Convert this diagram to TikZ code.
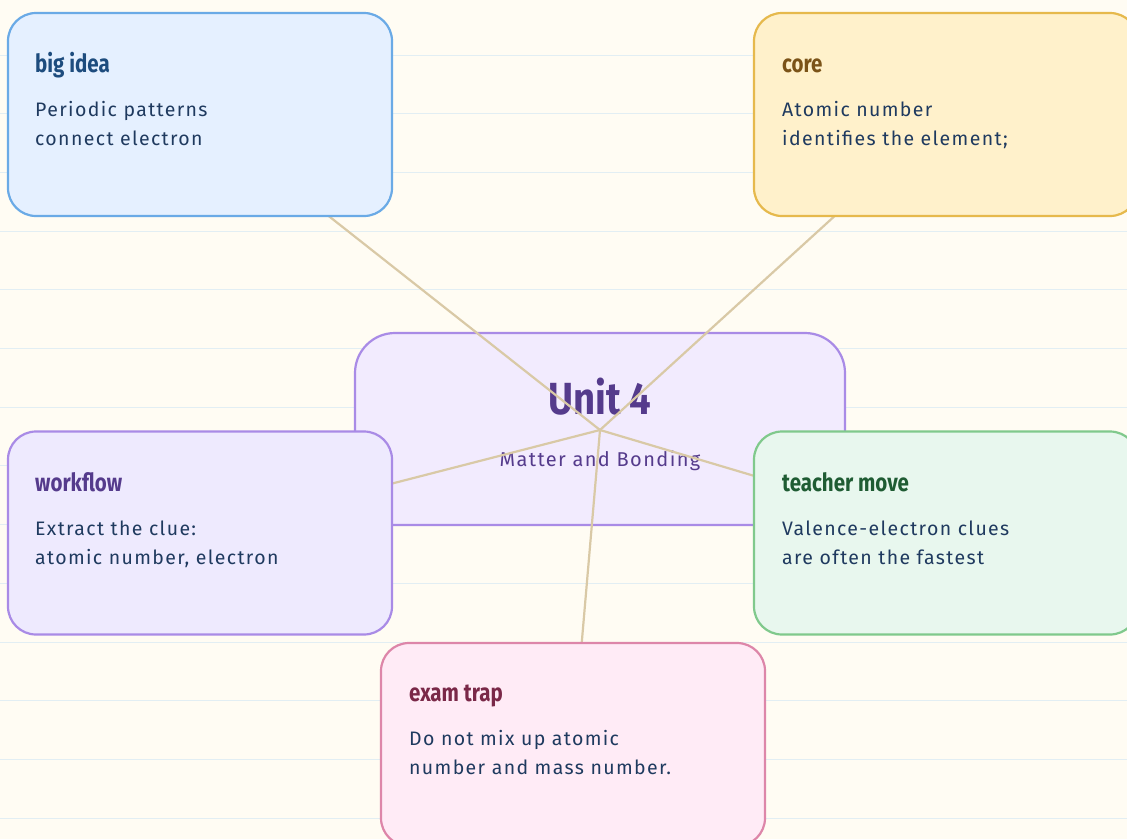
\documentclass[tikz,border=0pt]{standalone}
\usepackage{fontspec}
\setmainfont{Fira Sans}
\newfontfamily\spaced[LetterSpace=7]{Fira Sans}
\definecolor{bg}{HTML}{FFFCF3}
\definecolor{rule}{HTML}{E2EEF3}
\definecolor{conn}{HTML}{D9C9A6}
\definecolor{bodytxt}{HTML}{1F3A5F}
\definecolor{blueS}{HTML}{6AAAE6}\definecolor{blueF}{HTML}{E5F0FF}\definecolor{blueT}{HTML}{1D4C7E}
\definecolor{yelS}{HTML}{E6B94C}\definecolor{yelF}{HTML}{FFF1CB}\definecolor{yelT}{HTML}{7B5318}
\definecolor{purS}{HTML}{A98BE6}\definecolor{purF}{HTML}{EEEAFE}\definecolor{purC}{HTML}{F2EBFE}\definecolor{purT}{HTML}{553B8C}
\definecolor{grnS}{HTML}{80C98C}\definecolor{grnF}{HTML}{E8F7EE}\definecolor{grnT}{HTML}{1F5C33}
\definecolor{pnkS}{HTML}{DD86A9}\definecolor{pnkF}{HTML}{FFEBF6}\definecolor{pnkT}{HTML}{7A2848}
\newcommand{\cardtitle}[1]{\scalebox{0.82}[1]{#1}}
\begin{document}
\begin{tikzpicture}[x=1pt,y=-1pt,
  card/.style={draw, line width=2.2pt, rounded corners=28pt, minimum width=384pt, minimum height=203pt, inner sep=0pt},
  ttl/.style={anchor=base west, inner sep=0pt, font=\fontsize{25}{28}\selectfont\bfseries},
  bodytext/.style={anchor=base west, inner sep=0pt, text=bodytxt, align=left, font=\fontsize{19.5}{29}\selectfont\spaced},
  link/.style={draw=conn, line width=2.2pt}]
\useasboundingbox (0,0) rectangle (1127,839);
\fill[bg] (0,0) rectangle (1127,839);
\foreach \k in {0,...,13} \draw[rule, line width=1pt] (0,55+58.7*\k) -- (1127,55+58.7*\k);
% center
\node[draw=purS, fill=purC, line width=2.2pt, rounded corners=40pt, minimum width=490pt, minimum height=192pt, inner sep=0pt] (center) at (600,429) {};
\node[anchor=base, inner sep=0pt, text=purT, font=\fontsize{45}{48}\selectfont\bfseries] (unit) at (600,414) {\scalebox{0.85}[1]{Unit 4}};
\node[anchor=base, inner sep=0pt, text=purT, font=\fontsize{20}{24}\selectfont\spaced] (sub) at (600,466) {Matter and Bonding};
\coordinate (hub) at (600,430);
\coordinate (cbig) at (200,114.5);
\coordinate (ccore) at (946,114.5);
\coordinate (cwork) at (200,533);
\coordinate (cteach) at (946,533);
\coordinate (cexam) at (573,744.5);
\draw[link] (hub) -- (cbig);
\draw[link] (hub) -- (ccore);
\draw[link] (hub) -- (cwork);
\draw[link] (hub) -- (cteach);
\draw[link] (hub) -- (cexam);
% cards
\node[card, draw=blueS, fill=blueF] (big) at (cbig) {};
\node[ttl, text=blueT] (bigT) at (35,72) {\cardtitle{big idea}};
\node[bodytext] (bigB) at (35,145) {Periodic patterns\\connect electron};
\node[card, draw=yelS, fill=yelF] (core) at (ccore) {};
\node[ttl, text=yelT] (coreT) at (782,72) {\cardtitle{core}};
\node[bodytext] (coreB) at (782,145) {Atomic number\\identifies the element;};
\node[card, draw=purS, fill=purF] (work) at (cwork) {};
\node[ttl, text=purT] (workT) at (35,491) {\cardtitle{workflow}};
\node[bodytext] (workB) at (35,564) {Extract the clue:\\atomic number, electron};
\node[card, draw=grnS, fill=grnF] (teach) at (cteach) {};
\node[ttl, text=grnT] (teachT) at (782,491) {\cardtitle{teacher move}};
\node[bodytext] (teachB) at (782,564) {Valence-electron clues\\are often the fastest};
\node[card, draw=pnkS, fill=pnkF] (exam) at (cexam) {};
\node[ttl, text=pnkT] (examT) at (409,701) {\cardtitle{exam trap}};
\node[bodytext] (examB) at (409,774) {Do not mix up atomic\\number and mass number.};
\end{tikzpicture}
\end{document}
